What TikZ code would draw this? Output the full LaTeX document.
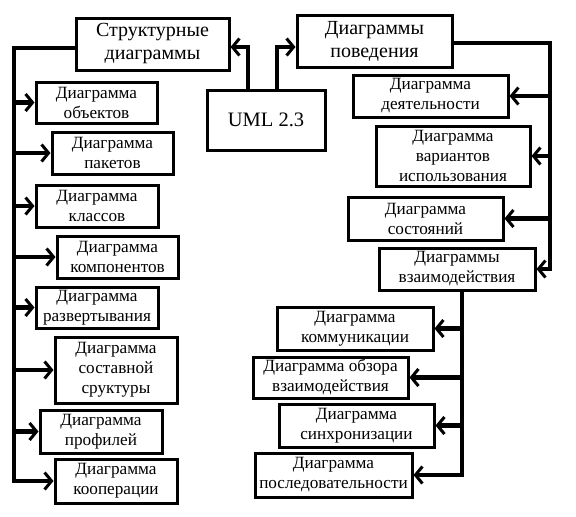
\documentclass[tikz,border=0pt]{standalone}
\usepackage{fontspec}
\setmainfont{Liberation Serif}
\usetikzlibrary{arrows.meta}
\begin{document}
\begin{tikzpicture}[x=1pt,y=-1pt,
  box/.style={draw,line width=3pt,inner sep=0pt,align=center,
    font=\fontsize{17.2}{20}\selectfont},
  hbox/.style={box,font=\fontsize{20}{23}\selectfont},
  link/.style={line width=4.5pt,line join=miter},
  arr/.style={link,-{Straight Barb[length=7pt,width=17pt,line width=3pt]}}]
\useasboundingbox (0,0) rectangle (576,517);
% top level
\node[hbox,minimum width=153pt,minimum height=52pt] (struct) at (152.5,44) {Структурные\\диаграммы};
\node[hbox,minimum width=155pt,minimum height=52pt] (beh) at (374.5,41) {Диаграммы\\поведения};
\node[box,font=\fontsize{20.5}{24}\selectfont,minimum width=118pt,minimum height=60pt] (uml) at (266,120) {UML 2.3};
% structural
\node[box,minimum width=121pt,minimum height=41pt] (obj) at (96.5,102.5) {Диаграмма\\объектов};
\node[box,minimum width=121pt,minimum height=42pt] (pak) at (112.5,153) {Диаграмма\\пакетов};
\node[box,minimum width=122pt,minimum height=42pt] (cls) at (97,206) {Диаграмма\\классов};
\node[box,minimum width=121pt,minimum height=42pt] (comp) at (117.5,257) {Диаграмма\\компонентов};
\node[box,minimum width=122pt,minimum height=41pt] (depl) at (97,307.5) {Диаграмма\\развертывания};
\node[box,minimum width=122pt,minimum height=66pt] (compos) at (116,370) {Диаграмма\\составной\\сруктуры};
\node[box,minimum width=122pt,minimum height=43pt] (prof) at (101,431.5) {Диаграмма\\профилей};
\node[box,minimum width=122pt,minimum height=44pt] (coop) at (116,481) {Диаграмма\\кооперации};
% behavioural
\node[box,minimum width=155pt,minimum height=42pt] (act) at (430.5,96) {Диаграмма\\деятельности};
\node[box,minimum width=154pt,minimum height=60pt] (use) at (453,156) {Диаграмма\\вариантов\\использования};
\node[box,minimum width=155pt,minimum height=43pt] (state) at (425.5,218.5) {Диаграмма\\состояний};
\node[box,minimum width=156pt,minimum height=42pt] (inter) at (457,269) {Диаграммы\\взаимодействия};
% interaction
\node[box,minimum width=156pt,minimum height=43pt] (comm) at (355,328.5) {Диаграмма\\коммуникации};
\node[box,minimum width=155pt,minimum height=41pt] (over) at (330.5,377.5) {Диаграмма обзора\\взаимодействия};
\node[box,minimum width=155pt,minimum height=43pt] (sync) at (356.5,425.5) {Диаграмма\\синхронизации};
\node[box,minimum width=157pt,minimum height=44pt] (seq) at (333.5,475) {Диаграмма\\последовательности};
% trunk positions
\coordinate (L) at (14,0);
\coordinate (R) at (550,0);
\coordinate (T) at (462,0);
\coordinate (U1) at (248,0);
\coordinate (U2) at (277,0);
% UML to groups
\draw[arr] (U1 |- uml.north) |- ([yshift=-3pt]struct.east);
\draw[arr] (U2 |- uml.north) |- ([yshift=-6pt]beh.west);
% structural trunk
\draw[arr] ([yshift=-4pt]struct.west) -| (L |- coop.west) -- (coop.west);
\foreach \n in {obj,pak,cls,comp,depl,compos,prof}
  \draw[arr] (L |- \n.west) -- (\n.west);
% behavioural trunk
\draw[arr] ([yshift=-2pt]beh.east) -| (R |- inter.east) -- (inter.east);
\foreach \n in {act,use,state}
  \draw[arr] (R |- \n.east) -- (\n.east);
% interaction trunk
\draw[arr] (T |- inter.south) -- (T |- seq.east) -- (seq.east);
\foreach \n in {comm,over,sync}
  \draw[arr] (T |- \n.east) -- (\n.east);
\end{tikzpicture}
\end{document}
